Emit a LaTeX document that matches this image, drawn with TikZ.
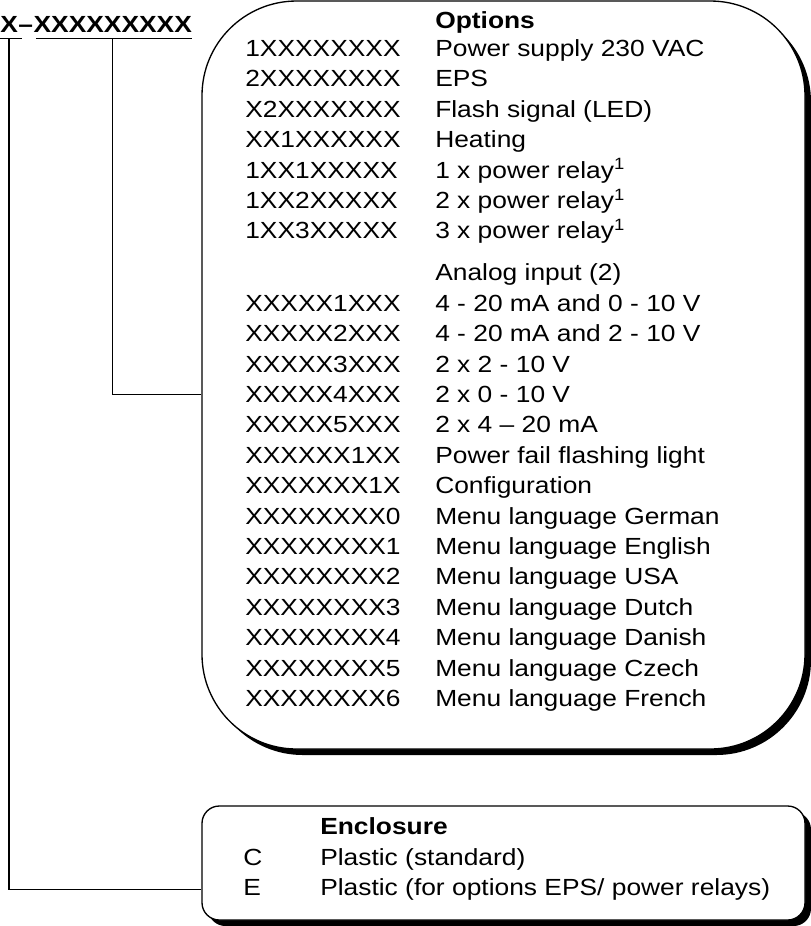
\documentclass[tikz,border=0pt]{standalone}
\usepackage{fontspec}
\setmainfont{Liberation Sans}[FakeStretch=1.13]
\usetikzlibrary{positioning,shadows}

\begin{document}
\begin{tikzpicture}[x=0.75pt, y=-0.75pt,
    every node/.style={font=\fontsize{17.5pt}{21pt}\selectfont},
    panel/.style={rectangle, draw, line width=1pt, fill=white, inner sep=0pt, minimum width=452.25pt,
        drop shadow={shadow xshift=4.5pt, shadow yshift=-4.5pt, fill=black, opacity=1}},
    code/.style={anchor=base west, inner sep=0pt},
    desc/.style={anchor=base west, inner sep=0pt},
    head/.style={anchor=base west, inner sep=0pt, font=\fontsize{17.5pt}{21pt}\selectfont\bfseries},
    title/.style={anchor=base west, inner sep=0pt, font=\fontsize{17.5pt}{21pt}\selectfont\bfseries},
    line/.style={line width=1pt}
]
    \useasboundingbox (0,0) rectangle (811,926);

    % the two option panels
    \node[panel, minimum height=561pt, rounded corners=71pt] (optbox) at (503.5,375) {};
    \node[panel, minimum height=85.5pt, rounded corners=13pt] (encbox) at (503.5,863) {};

    % type code
    \node[title] (pre) at (0,32) {X};
    \node[title] (dash) at (pre.base east) {--};
    \node[title] (suf) at (dash.base east) {XXXXXXXXX};
    \coordinate (preul) at ([yshift=-4.5pt]pre.south);
    \coordinate (suful) at ([yshift=-4.5pt]suf.south);
    \draw[line] ([yshift=-4.5pt]pre.south west) -- ([xshift=3pt,yshift=-4.5pt]pre.south east);
    \draw[line] ([xshift=2pt,yshift=-4.5pt]suf.south west) -- ([yshift=-4.5pt]suf.south east);

    % options
    \node[head] (ohead) at (435,28) {Options};
    \node[code] (c1) at (245,56.4) {1XXXXXXXX};   \node[desc] (d1) at (435,56.4) {Power supply 230 VAC};
    \node[code] (c2) at (245,86.8) {2XXXXXXXX};   \node[desc] (d2) at (435,86.8) {EPS};
    \node[code] (c3) at (245,117.2) {X2XXXXXXX};  \node[desc] (d3) at (435,117.2) {Flash signal (LED)};
    \node[code] (c4) at (245,147.6) {XX1XXXXXX};  \node[desc] (d4) at (435,147.6) {Heating};
    \node[code] (c5) at (245,178) {1XX1XXXXX};    \node[desc] (d5) at (435,178) {1 x power relay\textsuperscript{1}};
    \node[code] (c6) at (245,208.4) {1XX2XXXXX};  \node[desc] (d6) at (435,208.4) {2 x power relay\textsuperscript{1}};
    \node[code] (c7) at (245,238.8) {1XX3XXXXX};  \node[desc] (d7) at (435,238.8) {3 x power relay\textsuperscript{1}};
    \node[desc] (d8) at (435,280.8) {Analog input (2)};
    \node[code] (c9) at (245,311.2) {XXXXX1XXX};  \node[desc] (d9) at (435,311.2) {4 - 20 mA and 0 - 10 V};
    \node[code] (c10) at (245,341.6) {XXXXX2XXX}; \node[desc] (d10) at (435,341.6) {4 - 20 mA and 2 - 10 V};
    \node[code] (c11) at (245,372) {XXXXX3XXX};   \node[desc] (d11) at (435,372) {2 x 2 - 10 V};
    \node[code] (c12) at (245,402.4) {XXXXX4XXX}; \node[desc] (d12) at (435,402.4) {2 x 0 - 10 V};
    \node[code] (c13) at (245,432.8) {XXXXX5XXX}; \node[desc] (d13) at (435,432.8) {2 x 4 -- 20 mA};
    \node[code] (c14) at (245,463.2) {XXXXXX1XX}; \node[desc] (d14) at (435,463.2) {Power fail flashing light};
    \node[code] (c15) at (245,493.6) {XXXXXXX1X}; \node[desc] (d15) at (435,493.6) {Configuration};
    \node[code] (c16) at (245,524) {XXXXXXXX0};   \node[desc] (d16) at (435,524) {Menu language German};
    \node[code] (c17) at (245,554.4) {XXXXXXXX1}; \node[desc] (d17) at (435,554.4) {Menu language English};
    \node[code] (c18) at (245,584.8) {XXXXXXXX2}; \node[desc] (d18) at (435,584.8) {Menu language USA};
    \node[code] (c19) at (245,615.2) {XXXXXXXX3}; \node[desc] (d19) at (435,615.2) {Menu language Dutch};
    \node[code] (c20) at (245,645.6) {XXXXXXXX4}; \node[desc] (d20) at (435,645.6) {Menu language Danish};
    \node[code] (c21) at (245,676) {XXXXXXXX5};   \node[desc] (d21) at (435,676) {Menu language Czech};
    \node[code] (c22) at (245,706.4) {XXXXXXXX6}; \node[desc] (d22) at (435,706.4) {Menu language French};

    % enclosure
    \node[head] (ehead) at (320,834.5) {Enclosure};
    \node[code] (e1) at (243,865) {C}; \node[desc] (f1) at (320,865) {Plastic (standard)};
    \node[code] (e2) at (243,895.5) {E}; \node[desc] (f2) at (320,895.5) {Plastic (for options EPS/ power relays)};

    \draw[line] (preul) |- (encbox.west |- f2);
    \draw[line] (suful) |- (optbox.west |- c12);
\end{tikzpicture}
\end{document}
